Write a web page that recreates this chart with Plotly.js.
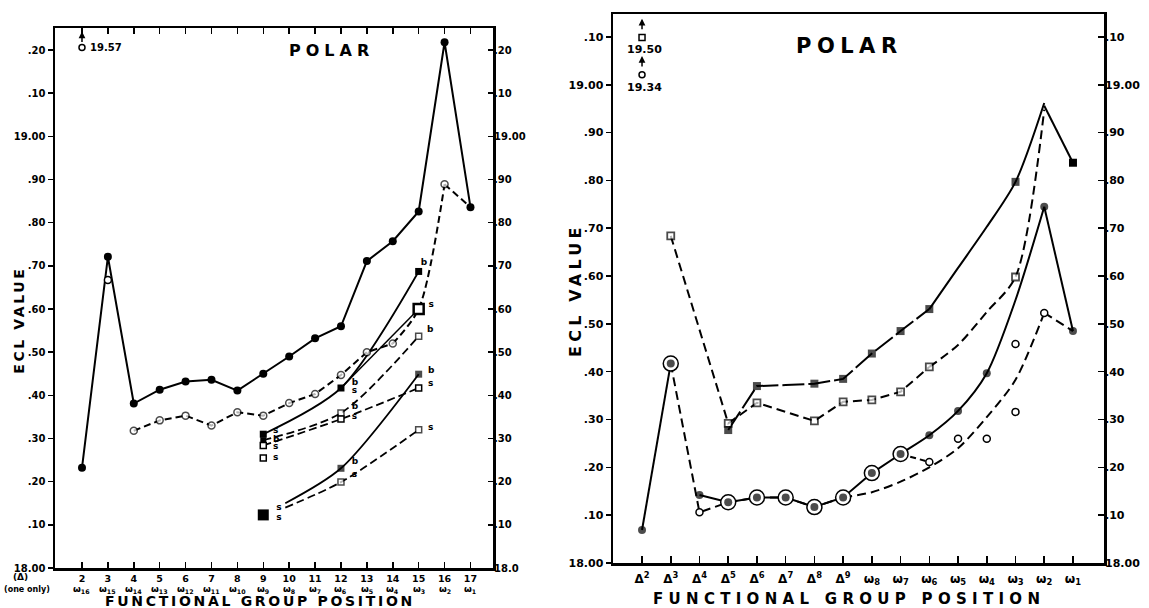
<!DOCTYPE html>
<html><head><meta charset="utf-8">
<script src="https://cdn.plot.ly/plotly-3.0.1.min.js"></script>
<style>html,body{margin:0;padding:0;background:#fff}#chart{width:1149px;height:608px}</style>
</head><body><div id="chart"></div>
<script>
// ================= LEFT PANEL DATA =================
const leftPos = [2,3,4,5,6,7,8,9,10,11,12,13,14,15,16,17];
const leftNumLabels = ['2','3','4','5','6','7','8','9','10','11','12','13','14','15','16','17'];
const leftOmegaLabels = ['ω<sub>16</sub>','ω<sub>15</sub>','ω<sub>14</sub>','ω<sub>13</sub>','ω<sub>12</sub>','ω<sub>11</sub>','ω<sub>10</sub>','ω<sub>9</sub>','ω<sub>8</sub>','ω<sub>7</sub>','ω<sub>6</sub>','ω<sub>5</sub>','ω<sub>4</sub>','ω<sub>3</sub>','ω<sub>2</sub>','ω<sub>1</sub>'];
const leftFilledCircle = [18.232,18.721,18.381,18.413,18.432,18.436,18.411,18.450,18.490,18.532,18.560,18.711,18.757,18.826,19.218,18.836];
const leftOpenPos = [4,5,6,7,8,9,10,11,12,13,14,15,16,17];
const leftOpenCircle = [18.318,18.342,18.353,18.330,18.361,18.353,18.382,18.403,18.447,18.500,18.520,18.600,18.889,18.836];
const leftOpenAt3 = 18.667;
const leftOffscaleOpen = 19.206; // drawn at top edge, true value 19.57
const midPos = [9,12,15];
const midFilledSq = [18.310,18.417,18.687];
const midOpenSqB = [18.296,18.359,18.537];
const midOpenSqS = [18.284,18.345,18.417];
const midBranchPos = [12,15];
const midBranch = [18.417,18.600];
const midLoneOpenSq = 18.255;
const lowPos = [9.85,12,15];
const lowFilledSq = [18.150,18.231,18.449];
const lowOpenSq = [18.140,18.199,18.320];
const lowBigSq = 18.123;
const tagPos = [9.38,9.38,9.38,9.38,12.42,12.42,12.42,12.42,12.42,12.42,15.08,15.38,15.32,15.36,15.36,15.36,9.5,9.5];
const tagVal = [18.319,18.298,18.280,18.255,18.430,18.410,18.373,18.350,18.245,18.215,18.708,18.611,18.553,18.456,18.427,18.325,18.139,18.116];
const tagText = ['s','b','s','s','b','s','b','s','b','s','b','s','b','b','s','s','s','s'];
const leftYVals = [18.0,18.1,18.2,18.3,18.4,18.5,18.6,18.7,18.8,18.9,19.0,19.1,19.2];
const leftYTextL = ['18.00','.10','.20','.30','.40','.50','.60','.70','.80','.90','19.00','.10','.20'];
const leftYTextR = ['18.0','.10','.20','.30','.40','.50','.60','.70','.80','.90','19.00','.10','.20'];

// ================= RIGHT PANEL DATA =================
const rightPos = [1,2,3,4,5,6,7,8,9,10,11,12,13,14,15,16];
const rightTickText = ['Δ<sup>2</sup>','Δ<sup>3</sup>','Δ<sup>4</sup>','Δ<sup>5</sup>','Δ<sup>6</sup>','Δ<sup>7</sup>','Δ<sup>8</sup>','Δ<sup>9</sup>','ω<sub>8</sub>','ω<sub>7</sub>','ω<sub>6</sub>','ω<sub>5</sub>','ω<sub>4</sub>','ω<sub>3</sub>','ω<sub>2</sub>','ω<sub>1</sub>'];
const rFilledCircle = [18.069,18.417,18.142,18.127,18.137,18.137,18.117,18.137,18.188,18.228,18.267,18.318,18.397,18.550,18.745,18.485];
const rFilledCircleMarked = [1,1,1,1,1,1,1,1,1,1,1,1,1,0,1,1];
const rDoublePos = [2,4,5,6,7,8,9,10];
const rDoubleVal = [18.417,18.127,18.137,18.137,18.117,18.137,18.188,18.228];
const rOpenCurvePos = [2,3,4,5,6,7,8,9,10,11,12,13,14,15,16];
const rOpenCurve = [18.417,18.106,18.127,18.137,18.137,18.117,18.137,18.148,18.170,18.200,18.240,18.305,18.383,18.523,18.485];
const rOpenCircleMarkPos = [3,11,12,13,14,14,15];
const rOpenCircleMark = [18.106,18.211,18.260,18.260,18.316,18.458,18.523];
const rOpenLinkPos = [10,11];
const rOpenLink = [18.228,18.211];
const rFilledSqPos = [4,5,6,7,8,9,10,11,12,13,14,15];
const rFilledSq = [18.278,18.370,18.372,18.375,18.385,18.438,18.485,18.531,18.617,18.703,18.797,18.962];
const rFilledSqMarked = [1,1,0,1,1,1,1,1,0,0,1,0];
const rFilledSqTailPos = [15,16];
const rFilledSqTail = [18.956,18.837];
const rOpenSqPos = [2,4,5,7,8,9,10,11,12,13,14,15];
const rOpenSq = [18.684,18.292,18.335,18.297,18.337,18.341,18.358,18.410,18.456,18.525,18.598,18.948];
const rOpenSqMarked = [1,1,1,1,1,1,1,1,0,0,1,0];
const rOffscaleSq = 19.099;    // true value 19.50
const rOffscaleCircle = 19.021; // true value 19.34
const rightYVals = [18.0,18.1,18.2,18.3,18.4,18.5,18.6,18.7,18.8,18.9,19.0,19.1];
const rightYText = ['18.00','.10','.20','.30','.40','.50','.60','.70','.80','.90','19.00','.10'];

// ================= BUILD =================
const K = '#000', W = '#fff';
function line(xa, ya, xs, ys, opt) {
  return {x: xs, y: ys, xaxis: xa, yaxis: ya, mode: 'lines', hoverinfo: 'skip',
    line: {color: K, width: opt.w || 2, dash: opt.dash || 'solid', shape: opt.shape || 'linear', smoothing: 0.8}};
}
function marks(xa, ya, xs, ys, opt) {
  const sizes = opt.mask ? opt.mask.map(m => m ? opt.size : 0) : opt.size;
  return {x: xs, y: ys, xaxis: xa, yaxis: ya, mode: 'markers', hoverinfo: 'skip',
    marker: {symbol: opt.symbol, size: sizes, color: opt.fill || K, line: {color: K, width: opt.lw || 0}}};
}
const traces = [];
// ---- left panel ----
traces.push(line('x','y', leftOpenPos.slice(0,11), leftOpenCircle.slice(0,11), {dash:'7px,4px'}));
traces.push(line('x','y', leftOpenPos.slice(10,13), leftOpenCircle.slice(10,13), {dash:'7px,4px', shape:'spline'}));
traces.push(line('x','y', leftOpenPos.slice(12,14), leftOpenCircle.slice(12,14), {dash:'7px,4px'}));
traces.push(line('x','y', leftPos, leftFilledCircle, {}));
traces.push(line('x','y', midPos, midFilledSq, {shape:'spline', w:1.8}));
traces.push(line('x','y', midPos, midOpenSqB, {shape:'spline', dash:'8px,4px', w:1.8}));
traces.push(line('x','y', midPos, midOpenSqS, {shape:'spline', dash:'8px,4px', w:1.8}));
traces.push(line('x','y', midBranchPos, midBranch, {w:1.5}));
traces.push(line('x','y', lowPos, lowFilledSq, {shape:'spline', w:1.8}));
traces.push(line('x','y', lowPos, lowOpenSq, {shape:'spline', dash:'8px,4px', w:1.8}));
traces.push(marks('x','y', leftOpenPos, leftOpenCircle, {symbol:'circle', size:7, fill:W, lw:1.5, mask:[1,1,1,1,1,1,1,1,1,1,1,0,1,0]}));
traces.push(marks('x','y', [leftPos[1]], [leftOpenAt3], {symbol:'circle', size:7, fill:W, lw:1.5}));
traces.push(marks('x','y', leftPos, leftFilledCircle, {symbol:'circle', size:8}));
traces.push(marks('x','y', midPos, midFilledSq, {symbol:'square', size:7}));
traces.push(marks('x','y', midPos, midOpenSqB, {symbol:'square', size:6, fill:W, lw:1.5, mask:[0,1,1]}));
traces.push(marks('x','y', [midPos[0]], [midOpenSqB[0]], {symbol:'square', size:6}));
traces.push(marks('x','y', midPos, midOpenSqS, {symbol:'square', size:6, fill:W, lw:1.5}));
traces.push(marks('x','y', [midPos[0]], [midLoneOpenSq], {symbol:'square', size:6, fill:W, lw:1.5}));
traces.push(marks('x','y', [midBranchPos[1]], [midBranch[1]], {symbol:'square', size:10, fill:W, lw:2.5}));
traces.push(marks('x','y', lowPos, lowFilledSq, {symbol:'square', size:7, mask:[0,1,1]}));
traces.push(marks('x','y', lowPos, lowOpenSq, {symbol:'square', size:6, fill:W, lw:1.5, mask:[0,1,1]}));
traces.push(marks('x','y', [midPos[0]], [lowBigSq], {symbol:'square', size:11}));
traces.push(marks('x','y', [leftPos[0]], [leftOffscaleOpen], {symbol:'circle', size:6, fill:W, lw:1.5}));
traces.push({x: tagPos, y: tagVal, text: tagText, xaxis:'x', yaxis:'y', mode:'text', hoverinfo:'skip',
  textposition:'middle right', textfont:{size:9, color:K, weight:'bold'}});
traces.push({x:[leftPos[0]], y:[leftFilledCircle[0]], xaxis:'x', yaxis:'y3', mode:'markers', marker:{opacity:0}, hoverinfo:'skip'});
// ---- right panel ----
traces.push(line('x2','y2', rightPos.slice(0,2), rFilledCircle.slice(0,2), {}));
traces.push(line('x2','y2', rightPos.slice(2,9), rFilledCircle.slice(2,9), {}));
traces.push(line('x2','y2', rightPos.slice(8,15), rFilledCircle.slice(8,15), {shape:'spline'}));
traces.push(line('x2','y2', rightPos.slice(14,16), rFilledCircle.slice(14,16), {}));
traces.push(line('x2','y2', rOpenCurvePos.slice(0,7), rOpenCurve.slice(0,7), {dash:'9px,5px'}));
traces.push(line('x2','y2', rOpenCurvePos.slice(6,14), rOpenCurve.slice(6,14), {dash:'9px,5px', shape:'spline'}));
traces.push(line('x2','y2', rOpenCurvePos.slice(13,15), rOpenCurve.slice(13,15), {dash:'9px,5px'}));
traces.push(line('x2','y2', rOpenLinkPos, rOpenLink, {dash:'6px,4px'}));
traces.push(line('x2','y2', rFilledSqPos.slice(0,8), rFilledSq.slice(0,8), {dash:'22px,4px'}));
traces.push(line('x2','y2', rFilledSqPos.slice(7), rFilledSq.slice(7), {shape:'spline'}));
traces.push(line('x2','y2', rFilledSqTailPos, rFilledSqTail, {}));
traces.push(line('x2','y2', rOpenSqPos.slice(0,8), rOpenSq.slice(0,8), {dash:'9px,5px'}));
traces.push(line('x2','y2', rOpenSqPos.slice(7), rOpenSq.slice(7), {dash:'9px,5px', shape:'spline'}));
traces.push(marks('x2','y2', rDoublePos, rDoubleVal, {symbol:'circle', size:15, fill:W, lw:1.5}));
traces.push(marks('x2','y2', rightPos, rFilledCircle, {symbol:'circle', size:8, mask:rFilledCircleMarked}));
traces.push(marks('x2','y2', rOpenCircleMarkPos, rOpenCircleMark, {symbol:'circle', size:7, fill:W, lw:1.5}));
traces.push(marks('x2','y2', rOpenSqPos, rOpenSq, {symbol:'square', size:7, fill:W, lw:1.8, mask:rOpenSqMarked}));
traces.push(marks('x2','y2', rFilledSqPos, rFilledSq, {symbol:'square', size:8, mask:rFilledSqMarked}));
traces.push(marks('x2','y2', [rFilledSqTailPos[1]], [rFilledSqTail[1]], {symbol:'square', size:8}));
traces.push(marks('x2','y2', [rightPos[0]], [rOffscaleSq], {symbol:'square', size:6, fill:W, lw:1.5}));
traces.push(marks('x2','y2', [rightPos[0]], [rOffscaleCircle], {symbol:'circle', size:6, fill:W, lw:1.5}));
traces.push({x:[rightPos[0]], y:[rFilledCircle[0]], xaxis:'x2', yaxis:'y4', mode:'markers', marker:{opacity:0}, hoverinfo:'skip'});

const PX = v => v / 1149, PY = v => 1 - v / 608;
const axBase = {showgrid:false, zeroline:false, showline:true, linecolor:K, linewidth:2.5, tickcolor:K, tickwidth:1.5, fixedrange:true};
const annots = [];
const spacing = [];
function ann(o, sp) { annots.push(Object.assign({showarrow:false, xanchor:'center', yanchor:'middle'}, o)); spacing.push(sp || 0); }
ann({text:'ECL VALUE', xref:'paper', yref:'paper', x:PX(19), y:PY(320), textangle:-90, font:{size:14}}, 2.6);
ann({text:'ECL VALUE', xref:'paper', yref:'paper', x:PX(575), y:PY(290), textangle:-90, font:{size:16}}, 4.2);
ann({text:'FUNCTIONAL GROUP POSITION', xref:'paper', yref:'paper', x:PX(103), y:PY(601), xanchor:'left', align:'left', font:{size:14}}, 2.7);
ann({text:'FUNCTIONAL GROUP POSITION', xref:'paper', yref:'paper', x:PX(651), y:PY(599), xanchor:'left', align:'left', font:{size:15}}, 5.3);
ann({text:'POLAR', xref:'paper', yref:'paper', x:PX(287), y:PY(51), xanchor:'left', align:'left', font:{size:16}}, 5);
ann({text:'POLAR', xref:'paper', yref:'paper', x:PX(794), y:PY(46), xanchor:'left', align:'left', font:{size:21}}, 5.5);
ann({text:'(Δ)', xref:'paper', yref:'paper', x:PX(20), y:PY(577), font:{size:9}});
ann({text:'(one only)', xref:'paper', yref:'paper', x:PX(27), y:PY(589), font:{size:8}});
ann({text:'19.57', xref:'x', yref:'y', x:2.25, y:leftOffscaleOpen, xanchor:'left', font:{size:10}});
ann({text:'', xref:'x', yref:'y', x:leftPos[0], y:19.243, showarrow:true, ax:0, ay:12, arrowhead:2, arrowsize:0.9, arrowwidth:1.5, arrowcolor:K});
ann({text:'19.50', xref:'x2', yref:'y2', x:1.1, y:19.073, font:{size:11}});
ann({text:'19.34', xref:'x2', yref:'y2', x:1.1, y:18.994, font:{size:11}});
ann({text:'', xref:'x2', yref:'y2', x:rightPos[0], y:19.138, showarrow:true, ax:0, ay:12, arrowhead:2, arrowsize:0.9, arrowwidth:1.5, arrowcolor:K});
ann({text:'', xref:'x2', yref:'y2', x:rightPos[0], y:19.060, showarrow:true, ax:0, ay:12, arrowhead:2, arrowsize:0.9, arrowwidth:1.5, arrowcolor:K});
// second row of left x labels (ω positions)
leftPos.forEach((p, i) => ann({text:leftOmegaLabels[i], xref:'x', yref:'paper', x:p, y:PY(589), font:{size:9}}));

// per-annotation letter spacing via stylesheet (in place before drawing)
const css = spacing.map((s, i) => s ? `g.annotation[data-index="${i}"] text.annotation-text{letter-spacing:${s}px}` : '').join('\n');
const st = document.createElement('style'); st.textContent = css; document.head.appendChild(st);

const layout = {
  width:1149, height:608, margin:{l:0, r:0, t:0, b:0}, showlegend:false,
  paper_bgcolor:'#fff', plot_bgcolor:'#fff',
  font:{family:'DejaVu Sans, Liberation Sans, sans-serif', color:K, weight:'bold'},
  xaxis: Object.assign({}, axBase, {domain:[PX(55), PX(493)], range:[0.958, 17.87], anchor:'y',
    tickvals:leftPos, ticktext:leftNumLabels, ticks:'inside', ticklen:6, mirror:'ticks', tickfont:{size:9.5}}),
  yaxis: Object.assign({}, axBase, {domain:[PY(568), PY(28)], range:[18.0, 19.251], anchor:'x',
    tickvals:leftYVals, ticktext:leftYTextL, ticks:'outside', ticklen:5, mirror:true, tickfont:{size:10}}),
  yaxis3: Object.assign({}, axBase, {overlaying:'y', side:'right', anchor:'x', range:[18.0, 19.251], showline:false,
    tickvals:leftYVals, ticktext:leftYTextR, ticks:'inside', ticklen:5, tickfont:{size:10}}),
  xaxis2: Object.assign({}, axBase, {domain:[PX(613), PX(1104)], range:[-0.01, 17.08], anchor:'y2',
    tickvals:rightPos, ticktext:rightTickText, ticks:'inside', ticklen:7, mirror:true, tickfont:{size:12}, ticklabelstandoff:3}),
  yaxis2: Object.assign({}, axBase, {domain:[PY(563), PY(14)], range:[18.0, 19.148], anchor:'x2',
    tickvals:rightYVals, ticktext:rightYText, ticks:'outside', ticklen:5, mirror:true, tickfont:{size:11}}),
  yaxis4: Object.assign({}, axBase, {overlaying:'y2', side:'right', anchor:'x2', range:[18.0, 19.148], showline:false,
    tickvals:rightYVals, ticktext:rightYText, ticks:'inside', ticklen:6, tickfont:{size:11}}),
  annotations: annots
};

Plotly.newPlot('chart', traces, layout, {staticPlot:true, displayModeBar:false});
</script>
</body></html>
